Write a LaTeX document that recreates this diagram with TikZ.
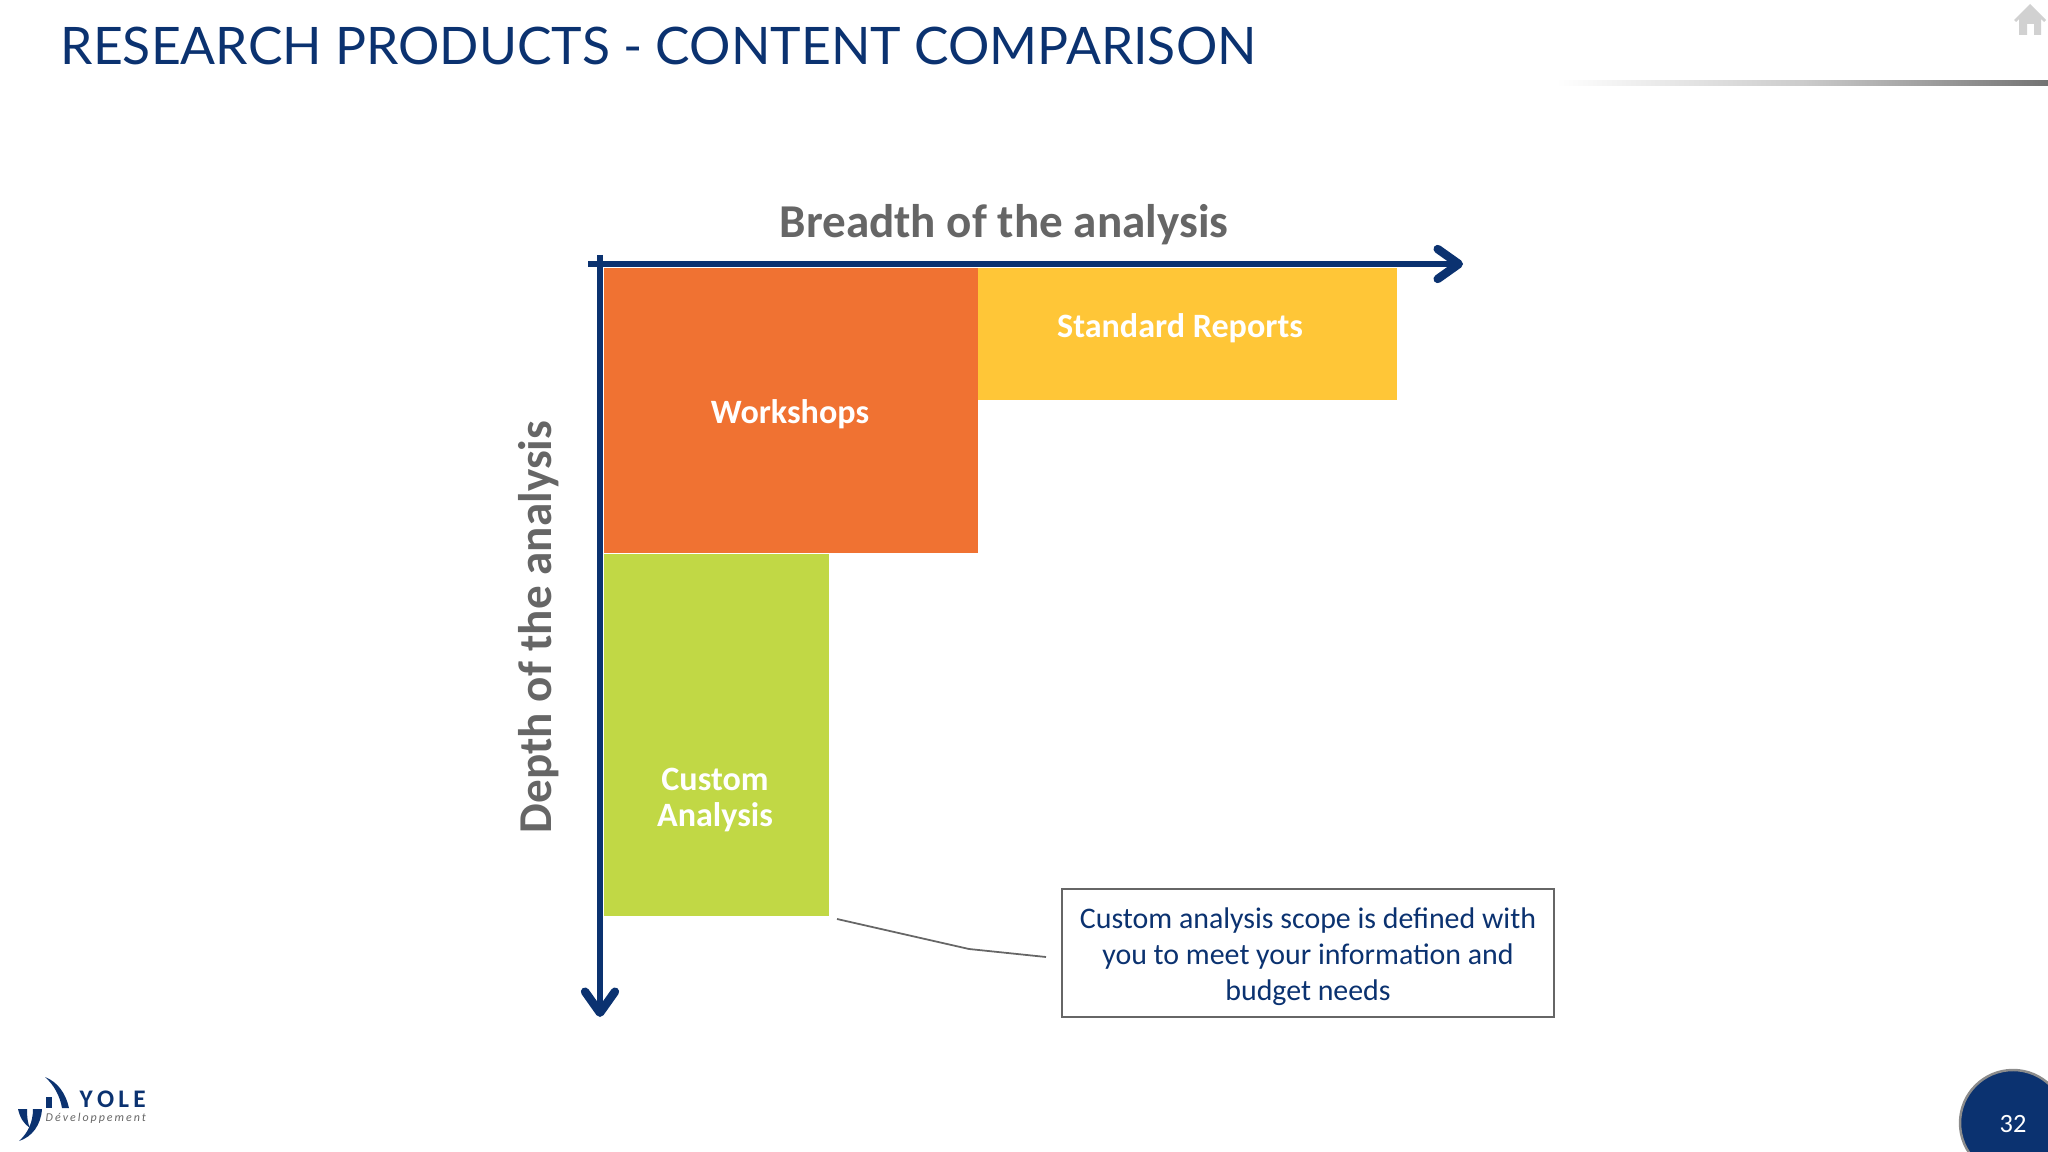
\documentclass[tikz,border=0pt]{standalone}
\usepackage{fontspec}
\setmainfont{Carlito}
\newfontfamily\titlefont{Lato}
\usetikzlibrary{arrows.meta,positioning}
\definecolor{yoleblue}{HTML}{0B3270}
\definecolor{axisgrey}{HTML}{666666}
\definecolor{boxorange}{HTML}{F07232}
\definecolor{boxyellow}{HTML}{FFC637}
\definecolor{boxgreen}{HTML}{C1D845}

\begin{document}
\begin{tikzpicture}[
    x=0.01cm, y=-0.01cm,
    nosep/.style={inner sep=0},
    block/.style={nosep, minimum width=#1, anchor=north west},
    blocktext/.style={nosep, text=white, align=center, font=\fontsize{9.7}{10.4}\selectfont\bfseries},
    axislabel/.style={nosep, text=axisgrey, font=\fontsize{13.4}{15}\selectfont\bfseries},
    axisline/.style={draw=yoleblue, line width=1.7pt, -{Straight Barb[round, length=6pt, width=8.5pt, line width=2.4pt]}}]
\useasboundingbox (0,0) rectangle (2048,1152);
\clip (0,0) rectangle (2048,1152);

% header
\node (title) [nosep, anchor=west, text=yoleblue, font=\titlefont\fontsize{14.7}{18}\selectfont] at (60,46) {RESEARCH PRODUCTS - CONTENT COMPARISON};
\shade[left color=white, right color=black!55, middle color=black!20] (1556,81) rectangle (2048,86);
\fill[black!18] (2030,4) -- (2046,20) -- (2044,22) -- (2041,19) -- (2041,35) -- (2034,35) -- (2034,24) -- (2027,24) -- (2027,35) -- (2019,35) -- (2019,19) -- (2016,22) -- (2014,20) -- cycle;

% blocks
\node (custom) [block=225*0.01cm, minimum height=362*0.01cm, fill=boxgreen] at (603,553) {};
\node (workshops) [block=374*0.01cm, minimum height=285*0.01cm, fill=boxorange] at (603,267) {};
\node (standard) [block=419*0.01cm, minimum height=132*0.01cm, fill=boxyellow] at (977,267) {};
\node (workshopstext) [blocktext] at (790,414) {Workshops};
\node (standardtext) [blocktext] at (1180,328) {Standard Reports};
\node (customtext) [blocktext] at (715,800) {Custom\\Analysis};

% axes
\coordinate (xstart) at (588,264);
\coordinate (xend) at (1463,264);
\coordinate (ystart) at (600,255);
\coordinate (yend) at (600,1017);
\draw[axisline] (xstart) -- (xend);
\draw[axisline] (ystart) -- (yend);
\node (breadth) [axislabel] at (1004,225) {Breadth of the analysis};
\node (depth) [axislabel, rotate=90] at (539,627) {Depth of the analysis};

% callout
\node (note) [draw=black!60, line width=0.5pt, fill=white, minimum width=492*0.01cm, minimum height=128*0.01cm, nosep] at (1308,953) {};
\node (notetext) [nosep, text=yoleblue, align=center, font=\fontsize{8.5}{10.2}\selectfont] at (1308,957) {Custom analysis scope is defined with\\you to meet your information and\\budget needs};
\coordinate (leaderstart) at (837,919);
\coordinate (leaderbend) at (969,949);
\coordinate (leaderend) at (1046,957);
\draw[draw=black!60, line width=0.5pt] (leaderstart) -- (leaderbend) -- (leaderend);

% page number
\node (pagedisc) [circle, nosep, minimum size=106*0.01cm, fill=yoleblue, draw=black!45, line width=0.7pt] at (2013,1123) {};
\node (pagenum) [nosep, text=white, font=\fontsize{7.5}{9}\selectfont] at (2013,1124) {32};

% logo
\fill[yoleblue] (45,1077) .. controls (58,1082) and (66,1094) .. (69,1108) -- (62,1108) .. controls (60,1096) and (54,1085) .. (45,1077) -- cycle;
\fill[yoleblue] (46,1097) rectangle (52,1108);
\fill[yoleblue] (18,1109) -- (27,1109) .. controls (27,1118) and (28,1124) .. (30,1128) .. controls (24,1124) and (20,1118) .. (18,1109) -- cycle;
\fill[yoleblue] (33,1109) -- (42,1109) .. controls (41,1125) and (32,1137) .. (19,1141) .. controls (28,1133) and (33,1122) .. (33,1109) -- cycle;
\node (logoname) [nosep, anchor=west, text=yoleblue, font=\fontsize{7.2}{8}\selectfont\bfseries] at (79,1099) {Y\,O\,L\,E};
\node (logosub) [nosep, anchor=west, text=axisgrey, font=\fontsize{3.4}{4}\selectfont\itshape] at (45,1118) {D\,é\,v\,e\,l\,o\,p\,p\,e\,m\,e\,n\,t};
\end{tikzpicture}
\end{document}
